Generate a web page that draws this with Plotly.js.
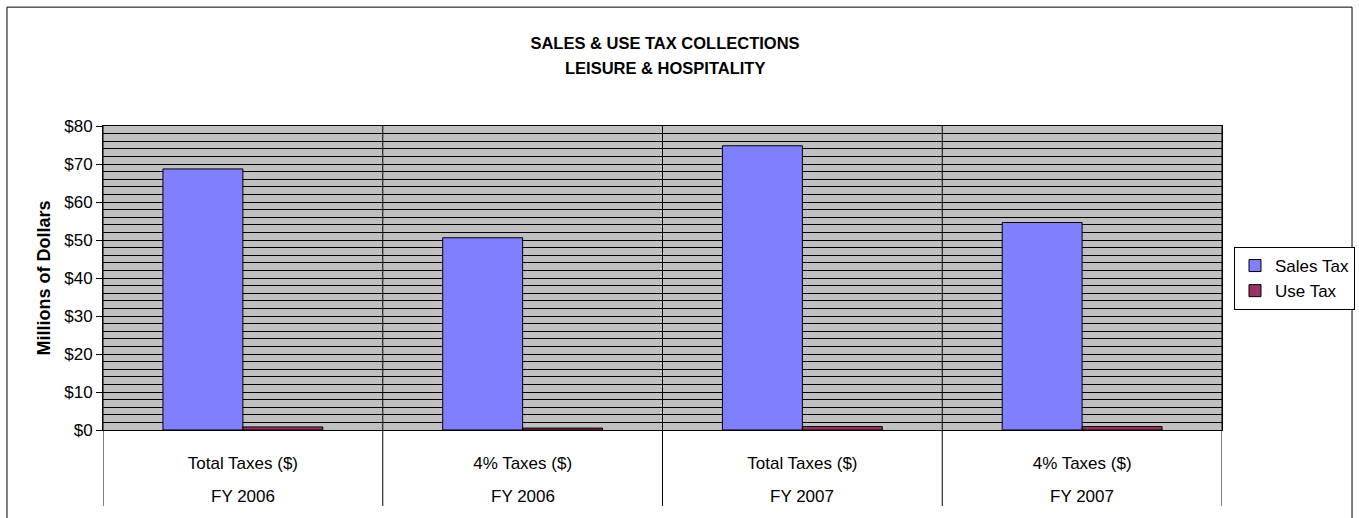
<!DOCTYPE html>
<html>
<head>
<meta charset="utf-8">
<script src="https://cdn.plot.ly/plotly-3.0.1.min.js"></script>
<style>
html,body{margin:0;padding:0;background:#fff;}
#chart{width:1359px;height:518px;}
</style>
</head>
<body>
<div id="chart"></div>
<script>
// ---- data ----
const measures = ['Total Taxes ($)', '4% Taxes ($)', 'Total Taxes ($)', '4% Taxes ($)'];
const fiscalYears = ['FY 2006', 'FY 2006', 'FY 2007', 'FY 2007'];
const salesTax = [68.7, 50.6, 74.8, 54.6];
const useTax = [0.8, 0.5, 0.9, 0.9];
const yTickVals = [0, 10, 20, 30, 40, 50, 60, 70, 80];
const yTickText = ['$0', '$10', '$20', '$30', '$40', '$50', '$60', '$70', '$80'];

const idx = measures.map((_, i) => i);
const FONT = 'Arial, "Liberation Sans", sans-serif';
const FS = 17;

const traces = [
  {type: 'bar', name: 'Sales Tax', x: idx, y: salesTax,
   marker: {color: '#8080FF', line: {color: '#000000', width: 1}}},
  {type: 'bar', name: 'Use Tax', x: idx, y: useTax,
   marker: {color: '#993366', line: {color: '#000000', width: 1}}}
];

// category separators (extend below the axis)
const shapes = [];
for (let i = 0; i <= idx.length; i++) {
  shapes.push({type: 'line', xref: 'x', yref: 'paper', x0: i - 0.5, x1: i - 0.5,
    y0: -0.25, y1: 1, line: {color: '#000000', width: 1}, layer: 'above'});
}
// outer chart border
shapes.push({type: 'rect', xref: 'paper', yref: 'paper',
  x0: -0.0858, x1: 1.1162, y0: -0.35, y1: 1.391,
  line: {color: '#000000', width: 1}, fillcolor: 'rgba(0,0,0,0)'});

const annotations = fiscalYears.map((fy, i) => ({
  xref: 'x', yref: 'paper', x: i, y: -0.22, text: fy, showarrow: false,
  font: {family: FONT, size: FS, color: '#000'}, yanchor: 'middle'
}));
annotations.push({xref: 'paper', yref: 'paper', x: (665 - 103) / 1119, y: (430 - 68) / 304,
  text: '<b>LEISURE &amp; HOSPITALITY</b>', showarrow: false, yanchor: 'middle',
  font: {family: FONT, size: 16.5, color: '#000'}});

const layout = {
  width: 1359, height: 518,
  margin: {l: 103, r: 137, t: 126, b: 88},
  paper_bgcolor: '#ffffff',
  plot_bgcolor: '#C0C0C0',
  title: {text: '<b>SALES &amp; USE TAX COLLECTIONS</b>', font: {family: FONT, size: 16.5, color: '#000'},
          x: 665 / 1359, xanchor: 'center', y: 1 - 43 / 518, yanchor: 'middle', xref: 'container', yref: 'container'},
  barmode: 'group',
  bargap: 0.4286,
  bargroupgap: 0,
  showlegend: true,
  legend: {xref: 'container', yref: 'container', x: 1234 / 1359, xanchor: 'left', y: 1 - 247 / 518, yanchor: 'top',
           bordercolor: '#000', borderwidth: 1, bgcolor: '#fff', itemwidth: 30,
           font: {family: FONT, size: 17, color: '#000'}},
  xaxis: {type: 'linear', range: [-0.5, 3.5], tickvals: idx, ticktext: measures,
          showgrid: false, zeroline: false, ticks: '', ticklabelstandoff: 18,
          showline: true, linecolor: '#000', linewidth: 1, mirror: true, automargin: false,
          tickfont: {family: FONT, size: FS, color: '#000'}},
  yaxis: {range: [0, 80], tickvals: yTickVals, ticktext: yTickText, automargin: false,
          showgrid: true, gridcolor: '#000', gridwidth: 1,
          minor: {dtick: 2, showgrid: true, gridcolor: '#000', gridwidth: 1},
          zeroline: false, ticks: 'outside', ticklen: 6, tickcolor: '#000',
          showline: true, linecolor: '#000', linewidth: 1, mirror: true,
          tickfont: {family: FONT, size: FS, color: '#000'},
          title: {text: '<b>Millions of Dollars</b>', font: {family: FONT, size: 18, color: '#000'}, standoff: 8}},
  shapes: shapes,
  annotations: annotations
};

Plotly.newPlot('chart', traces, layout, {displayModeBar: false, staticPlot: true});
</script>
</body>
</html>
